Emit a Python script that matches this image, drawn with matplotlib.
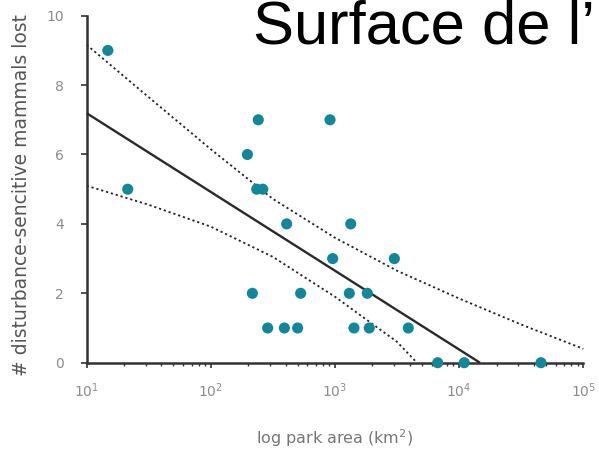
import matplotlib
matplotlib.use("Agg")
import matplotlib.pyplot as plt
from matplotlib.ticker import LogLocator, NullFormatter, FixedLocator

# Park area (km^2) and number of disturbance-sensitive mammal species lost
park_area = [14.8, 21.4, 197, 241, 234, 262, 408, 216, 287, 391, 500, 529,
             912, 958, 1339, 1304, 1422, 1820, 1888, 3006, 3894, 6714, 10990, 45600]
species_lost = [9, 5, 6, 7, 5, 5, 4, 2, 1, 1, 1, 2,
                7, 3, 4, 2, 1, 2, 1, 3, 1, 0, 0, 0]

# Fitted regression line (clipped at zero)
fit_area = [10, 14700]
fit_lost = [7.19, 0.0]

# Confidence band around the fit
upper_area = [10, 31.6, 100, 316, 1000, 3162, 10000, 31623, 100000]
upper_lost = [9.16, 7.65, 6.15, 4.72, 3.60, 2.65, 1.85, 1.10, 0.40]
lower_area = [10, 31.6, 100, 316, 1000, 3162, 4570]
lower_lost = [5.10, 4.55, 3.92, 3.05, 1.90, 0.60, 0.0]

y_ticks = [0, 2, 4, 6, 8, 10]

W, H = 599, 451
fig = plt.figure(figsize=(W / 100, H / 100), dpi=100)
ax = fig.add_axes([86.7 / W, 1 - 362.7 / H, 496.6 / W, 347.0 / H])

grey = "#8c8c8c"
spine_col = "#333333"
teal = "#13879a"

dots = (0, (1.2, 1.6))
ax.plot(upper_area, upper_lost, linestyle=dots, color="#222222", lw=1.3,
        clip_on=False, zorder=2)
ax.plot(lower_area, lower_lost, linestyle=dots, color="#222222", lw=1.3,
        clip_on=False, zorder=2)
ax.plot(fit_area, fit_lost, color="#2a2a2a", lw=1.7, solid_capstyle="butt",
        clip_on=False, zorder=3)
ax.scatter(park_area, species_lost, s=64, color=teal, edgecolors="none",
           clip_on=False, zorder=4)

ax.set_xscale("log")
ax.set_xlim(10, 1e5)
ax.set_ylim(0, 10)

for side in ("top", "right"):
    ax.spines[side].set_visible(False)
for side in ("left", "bottom"):
    ax.spines[side].set_color(spine_col)
    ax.spines[side].set_linewidth(1.8)

ax.yaxis.set_major_locator(FixedLocator(y_ticks))
ax.xaxis.set_major_locator(LogLocator(base=10, numticks=10))
ax.xaxis.set_minor_locator(LogLocator(base=10, subs=range(2, 10), numticks=10))
ax.xaxis.set_minor_formatter(NullFormatter())

ax.tick_params(axis="both", which="major", direction="out", width=1.2,
               color=spine_col, labelcolor=grey, labelsize=10)
ax.tick_params(axis="x", which="major", length=3.8, pad=9.5)
ax.tick_params(axis="y", which="major", length=4.3, pad=12)
ax.tick_params(axis="x", which="minor", direction="out", length=2.5, width=1.0,
               color=spine_col)

ax.set_xlabel("log park area (km$^2$)", color="#777777", fontsize=11.5)
ax.xaxis.set_label_coords(0.5, (362.7 - 427) / 347.0)
ax.set_ylabel("# disturbance-sencitive mammals lost", color="#555555",
              fontsize=13.5)
ax.yaxis.set_label_coords((31 - 86.7) / 496.6, (362.7 - 195) / 347.0)

fig.text(253 / W, 1 - 44 / H, "Surface de l\u2019",
         family="Liberation Sans", fontsize=44.3, color="black", va="baseline",
         ha="left")

fig.savefig("out.png", dpi=100)
